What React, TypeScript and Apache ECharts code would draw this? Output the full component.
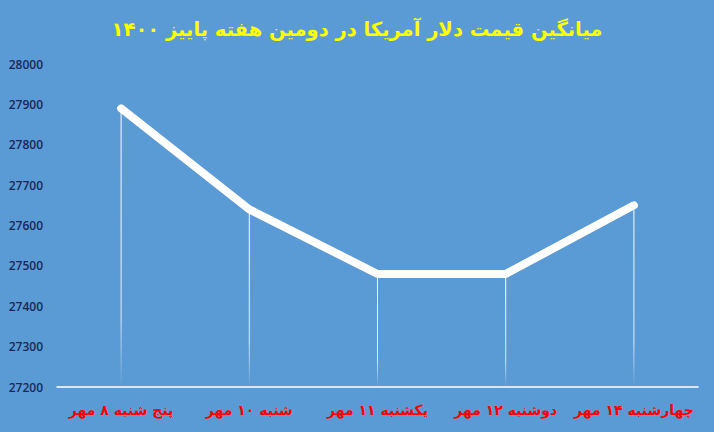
import React, { useEffect, useRef } from "react";
import * as echarts from "echarts";

const titleText = "میانگین قیمت دلار آمریکا در دومین هفته پاییز ۱۴۰۰";
const categories = [
  "پنج شنبه ۸ مهر",
  "شنبه ۱۰ مهر",
  "یکشنبه ۱۱ مهر",
  "دوشنبه ۱۲ مهر",
  "چهارشنبه ۱۴ مهر",
];
const prices = [27890, 27640, 27480, 27480, 27650];
const yMin = 27200;
const yMax = 28000;
const yStep = 100;

export default function App() {
  const ref = useRef<HTMLDivElement>(null);
  useEffect(() => {
    if (!ref.current) return;
    const chart = echarts.init(ref.current, undefined, { renderer: "svg" });
    chart.setOption({
      animation: false,
      backgroundColor: "#5B9BD5",
      title: {
        text: titleText,
        left: "center",
        top: 14,
        textStyle: {
          color: "#FFFF00",
          fontSize: 19.5,
          fontWeight: "bold",
          fontFamily: "DejaVu Sans, sans-serif",
        },
      },
      grid: { left: 57, right: 16, top: 64, bottom: 45 },
      xAxis: {
        type: "category",
        data: categories,
        boundaryGap: true,
        axisLine: { show: true, lineStyle: { color: "#FFFFFF", width: 1.5 } },
        axisTick: { show: false },
        axisLabel: {
          interval: 0,
          color: "#FF0000",
          fontSize: 14,
          fontWeight: "bold",
          margin: 16,
          fontFamily: "DejaVu Sans, sans-serif",
        },
        splitLine: { show: false },
      },
      yAxis: {
        type: "value",
        min: yMin,
        max: yMax,
        interval: yStep,
        axisLine: { show: false },
        axisTick: { show: false },
        splitLine: { show: false },
        axisLabel: {
          color: "#16295A",
          fontSize: 12,
          fontWeight: 600,
          margin: 14,
          formatter: (v: number) => String(v),
          fontFamily: "Open Sans, Liberation Sans, sans-serif",
        },
      },
      series: [
        {
          type: "bar",
          data: prices,
          barWidth: 1,
          silent: true,
          itemStyle: {
            color: new echarts.graphic.LinearGradient(0, 0, 0, 1, [
              { offset: 0, color: "rgba(255,255,255,1)" },
              { offset: 0.75, color: "rgba(255,255,255,0.8)" },
              { offset: 1, color: "rgba(255,255,255,0)" },
            ]),
          },
        },
        {
          type: "line",
          data: prices,
          symbol: "none",
          lineStyle: { color: "#FFFFFF", width: 8, cap: "round", join: "round" },
          z: 5,
        },
      ],
    });
    return () => chart.dispose();
  }, []);
  return <div ref={ref} style={{ width: 714, height: 432, position: "absolute", left: 0, top: 0 }} />;
}
